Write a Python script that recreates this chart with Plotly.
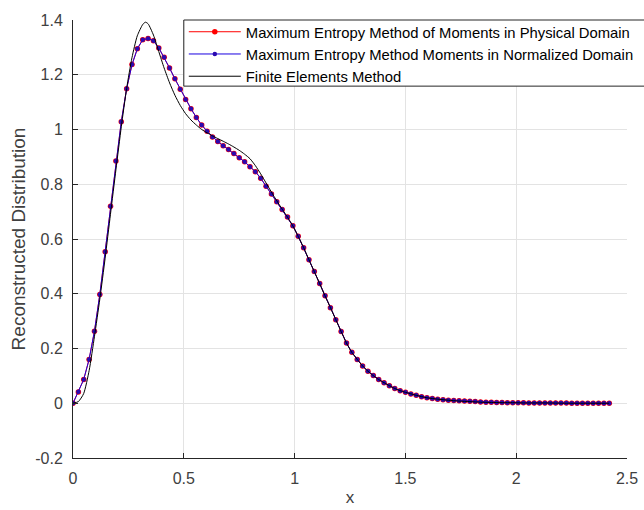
import plotly.graph_objects as go

# x grid of the moment-method reconstructions (step ~0.0242, 0 .. 2.42)
x_mem = [round(i * 0.0242, 4) for i in range(101)]

y_physical = [
    0.000, 0.041, 0.087, 0.160, 0.263, 0.397, 0.553, 0.720, 0.885, 1.028,
    1.149, 1.237, 1.295, 1.328, 1.332, 1.324, 1.298, 1.264, 1.225, 1.185,
    1.147, 1.110, 1.076, 1.044, 1.016, 0.994, 0.973, 0.956, 0.941, 0.927,
    0.912, 0.897, 0.882, 0.864, 0.846, 0.822, 0.793, 0.764, 0.736, 0.708,
    0.680, 0.648, 0.610, 0.568, 0.524, 0.481, 0.437, 0.393, 0.349, 0.305,
    0.262, 0.220, 0.186, 0.160, 0.136, 0.117, 0.101, 0.087, 0.075, 0.064,
    0.054, 0.046, 0.040, 0.034, 0.029, 0.024, 0.020, 0.017, 0.015, 0.013,
    0.011, 0.010, 0.009, 0.008, 0.007, 0.006, 0.005, 0.004, 0.004, 0.003,
    0.003, 0.002, 0.002, 0.002, 0.002, 0.001, 0.001, 0.001, 0.001, 0.001,
    0.001, 0.001, 0.001, 0.000, 0.000, 0.000, 0.000, 0.000, 0.000, 0.000,
    0.000,
]

y_normalized = [
    0.000, 0.042, 0.087, 0.160, 0.263, 0.397, 0.553, 0.720, 0.885, 1.028,
    1.149, 1.237, 1.295, 1.328, 1.332, 1.324, 1.298, 1.264, 1.225, 1.185,
    1.147, 1.110, 1.076, 1.044, 1.016, 0.994, 0.973, 0.956, 0.941, 0.927,
    0.912, 0.897, 0.882, 0.864, 0.846, 0.822, 0.793, 0.764, 0.736, 0.708,
    0.680, 0.648, 0.610, 0.568, 0.524, 0.481, 0.437, 0.393, 0.349, 0.305,
    0.262, 0.220, 0.186, 0.160, 0.136, 0.117, 0.101, 0.087, 0.075, 0.064,
    0.054, 0.046, 0.040, 0.034, 0.029, 0.024, 0.020, 0.017, 0.015, 0.013,
    0.011, 0.010, 0.009, 0.008, 0.007, 0.006, 0.005, 0.004, 0.004, 0.003,
    0.003, 0.002, 0.002, 0.002, 0.002, 0.001, 0.001, 0.001, 0.001, 0.001,
    0.001, 0.001, 0.001, 0.000, 0.000, 0.000, 0.000, 0.000, 0.000, 0.000,
    0.000,
]

# Finite elements reference solution
x_fem = [
    0.000, 0.024, 0.048, 0.073, 0.097, 0.121, 0.145, 0.169, 0.194, 0.218,
    0.242, 0.266, 0.290, 0.315, 0.327, 0.339, 0.363, 0.387, 0.411, 0.436,
    0.460, 0.484, 0.508, 0.532, 0.557, 0.581, 0.605, 0.629, 0.653, 0.678,
    0.702, 0.726, 0.750, 0.774, 0.799, 0.823, 0.847, 0.871, 0.895, 0.920,
    0.944, 0.968, 0.992, 1.016, 1.041, 1.065, 1.089, 1.113, 1.137, 1.162,
    1.186, 1.210, 1.234, 1.258, 1.283, 1.307, 1.331, 1.355, 1.379, 1.404,
    1.428, 1.452, 1.476, 1.500, 1.549, 1.597, 1.646, 1.694, 1.742, 1.791,
    1.839, 1.888, 1.936, 1.984, 2.033, 2.130, 2.226, 2.323, 2.420,
]
y_fem = [
    0.000, 0.006, 0.035, 0.120, 0.245, 0.380, 0.530, 0.690, 0.855, 1.010,
    1.150, 1.262, 1.342, 1.384, 1.392, 1.386, 1.345, 1.285, 1.225, 1.170,
    1.125, 1.088, 1.058, 1.035, 1.016, 1.000, 0.988, 0.977, 0.967, 0.957,
    0.947, 0.936, 0.924, 0.910, 0.893, 0.868, 0.838, 0.805, 0.772, 0.739,
    0.709, 0.680, 0.648, 0.610, 0.568, 0.524, 0.481, 0.437, 0.393, 0.349,
    0.305, 0.262, 0.220, 0.186, 0.160, 0.136, 0.117, 0.101, 0.087, 0.075,
    0.064, 0.054, 0.046, 0.040, 0.029, 0.020, 0.015, 0.011, 0.008, 0.006,
    0.004, 0.003, 0.002, 0.002, 0.001, 0.001, 0.000, 0.000, 0.000,
]

x_ticks = [0, 0.5, 1, 1.5, 2, 2.5]
x_tick_labels = ["0", "0.5", "1", "1.5", "2", "2.5"]
y_ticks = [-0.2, 0, 0.2, 0.4, 0.6, 0.8, 1, 1.2, 1.4]
y_tick_labels = ["-0.2", "0", "0.2", "0.4", "0.6", "0.8", "1", "1.2", "1.4"]

FONT = "Liberation Sans, Arial, sans-serif"
AX = "#262626"
TXT = "#404040"
GRID = "#e3e3e3"

fig = go.Figure()
fig.add_trace(go.Scatter(
    x=x_mem, y=y_physical, mode="lines+markers",
    name="Maximum Entropy Method of Moments in Physical Domain",
    line=dict(color="#ff0000", width=1),
    marker=dict(color="#ff0000", size=5.5, symbol="circle"),
))
fig.add_trace(go.Scatter(
    x=x_mem, y=y_normalized, mode="lines+markers",
    name="Maximum Entropy Method Moments in Normalized Domain",
    line=dict(color="#1a00e0", width=1),
    marker=dict(color="#2a0ab0", size=4.5, symbol="circle"),
))
fig.add_trace(go.Scatter(
    x=x_fem, y=y_fem, mode="lines",
    name="Finite Elements Method",
    line=dict(color="#000000", width=1, shape="spline", smoothing=0.6),
))

# legend frame (extends past the right edge like the reference)
fig.add_shape(
    type="rect", xref="paper", yref="paper",
    x0=0.2, x1=1.1, y0=0.849, y1=1.0,
    line=dict(color="#262626", width=1), fillcolor="white", layer="above",
)

fig.update_layout(
    width=644, height=510,
    margin=dict(l=73, r=17, t=20, b=52, autoexpand=False),
    paper_bgcolor="white", plot_bgcolor="white",
    font=dict(family=FONT, size=16, color=AX),
    showlegend=True,
    legend=dict(
        x=0.2, y=1.01, xanchor="left", yanchor="top",
        borderwidth=0, bgcolor="rgba(0,0,0,0)",
        font=dict(family=FONT, size=14.8, color="#000000"),
        tracegroupgap=0, itemwidth=52,
    ),
)
fig.update_xaxes(
    range=[0, 2.5], tickvals=x_ticks, ticktext=x_tick_labels,
    showgrid=True, gridcolor=GRID, gridwidth=1,
    showline=True, linecolor=AX, linewidth=1, mirror=False,
    ticks="inside", ticklen=5, tickcolor=AX,
    zeroline=False, automargin=False,
    tickfont=dict(family=FONT, size=16, color=TXT),
    ticklabelstandoff=6,
    title=dict(text="x", font=dict(family=FONT, size=17, color=TXT), standoff=4),
)
fig.update_yaxes(
    range=[-0.2, 1.4], tickvals=y_ticks, ticktext=y_tick_labels,
    showgrid=True, gridcolor=GRID, gridwidth=1,
    showline=True, linecolor=AX, linewidth=1, mirror=False,
    ticks="inside", ticklen=5, tickcolor=AX,
    zeroline=False, automargin=False,
    tickfont=dict(family=FONT, size=16, color=TXT),
    ticklabelstandoff=6,
    title=dict(text="Reconstructed Distribution", font=dict(family=FONT, size=19, color=TXT), standoff=4),
)

fig.write_html("out.html")
